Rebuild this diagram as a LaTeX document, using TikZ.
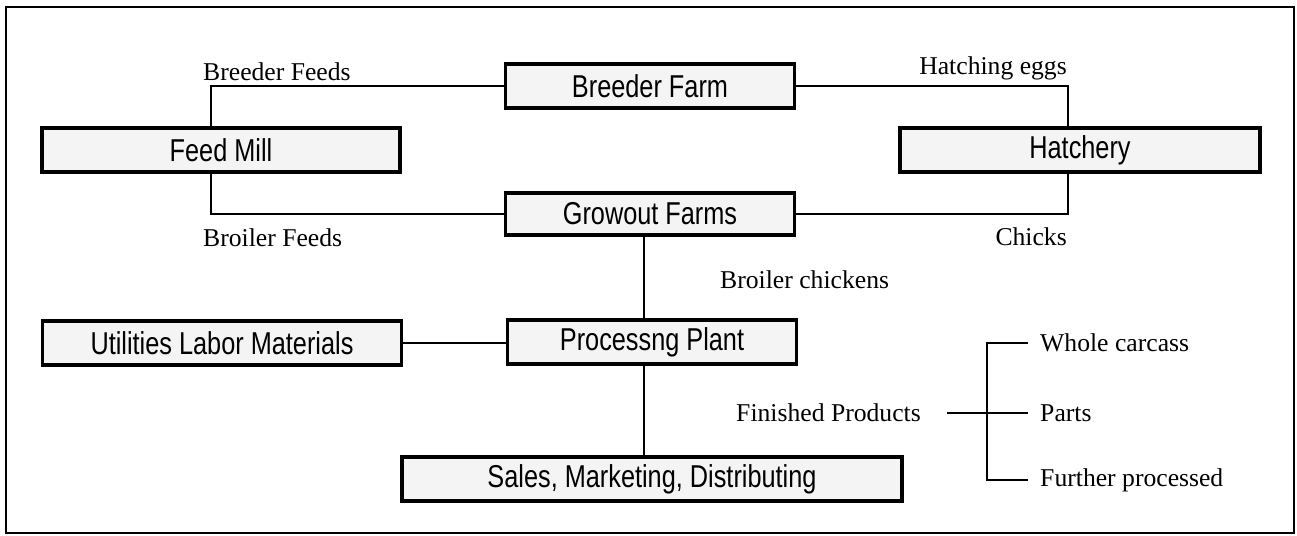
\documentclass[tikz,border=0pt]{standalone}
\usepackage{fontspec}
\setmainfont{Liberation Serif}
\newfontfamily\boxfont[FakeStretch=0.8]{Liberation Sans}
\begin{document}
\begin{tikzpicture}[x=0.02cm, y=-0.02cm, line width=1.4pt,
    unit node/.style={rectangle,draw,line width=2pt,fill=gray!9,minimum height=0.88cm,inner sep=0pt,font=\boxfont\fontsize{18}{20}\selectfont},
    flow label/.style={inner sep=0pt,font=\fontsize{14.6}{16}\selectfont}]

					\useasboundingbox (0,0) rectangle (1297,536);
					\draw[line width=1.6pt] (6,7) rectangle (1294,533);

					\node[unit node, minimum width=5.78cm] at (650, 86) (breeder) {Breeder Farm};
					\node[unit node, minimum width=7.16cm] at (221, 150) (feed) {Feed Mill};
					\node[unit node, minimum width=7.2cm] at (1080, 150) (hatchery) {Hatchery};
					\node[unit node, minimum width=5.78cm, minimum height=0.84cm] at (650, 214) (growout) {Growout Farms};
					\node[unit node, minimum width=5.78cm] at (652, 342) (processing) {Processng Plant};
					\node[unit node, minimum width=7.18cm] at (222, 343) (utilities) {Utilities Labor Materials};
					\node[unit node, minimum width=10cm] at (652, 479) (sales) {Sales, Marketing, Distributing};

					\node[flow label, anchor=west] at (202, 72) (breederfeeds) {Breeder Feeds};
					\node[flow label, anchor=west] at (202, 238) (broilerfeeds) {Broiler Feeds};
					\node[flow label, anchor=east] at (1068, 68) (eggs) {Hatching eggs};
					\node[flow label, anchor=east] at (1068, 237) (chicks) {Chicks};
					\node[flow label, anchor=west] at (719, 280) (chickens) {Broiler chickens};
					\node[flow label, anchor=west] at (735, 413) (finished) {Finished Products};
					\node[flow label, anchor=west] at (1039, 343) (whole) {Whole carcass};
					\node[flow label, anchor=west] at (1039, 413) (parts) {Parts};
					\node[flow label, anchor=west] at (1039, 480) (further) {Further processed};
					\coordinate (fork) at (987, 0);

					\draw ([xshift=-0.2cm]feed.north) |- (breeder.west);
					\draw ([xshift=-0.2cm]feed.south) |- (growout.west);
					\draw (breeder.east) -| ([xshift=-0.24cm]hatchery.north);
					\draw (growout.east) -| ([xshift=-0.24cm]hatchery.south);
					\draw ([xshift=-0.12cm]growout.south) -- ([xshift=-0.12cm]growout.south |- processing.north);
					\draw (utilities.east) -- (utilities.east -| processing.west);
					\draw ([xshift=-0.16cm]processing.south) -- ([xshift=-0.16cm]processing.south |- sales.north);
                    \draw ([xshift=0.5cm]finished.east) -- ([xshift=-0.22cm]parts.west);
                    \draw ([xshift=-0.22cm]whole.west) -| (fork |- further.west) -- ([xshift=-0.22cm]further.west);
                \end{tikzpicture}
\end{document}
